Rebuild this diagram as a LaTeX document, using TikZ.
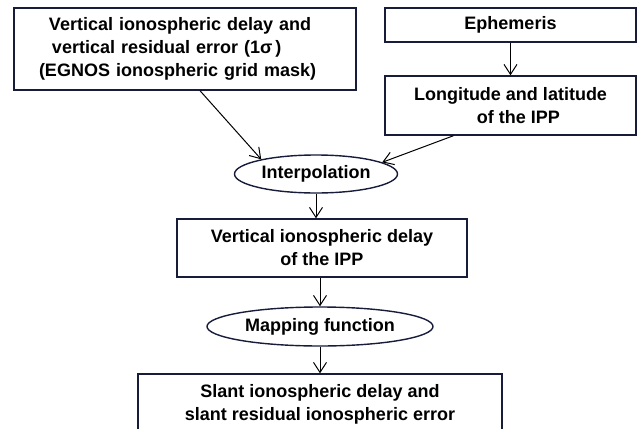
\documentclass[tikz,border=0pt]{standalone}
\usepackage{fontspec}
\setmainfont{Liberation Sans}
\usepackage{tikz}
\usetikzlibrary{shapes.geometric,arrows.meta}
\definecolor{boxline}{RGB}{22,28,58}
\tikzstyle{node:box}=[rectangle,draw=boxline,line width=1.4pt,inner sep=0pt,align=center,font=\fontsize{18}{23}\selectfont\bfseries]
\tikzstyle{node:process}=[ellipse,draw=boxline,line width=1.4pt,inner sep=0pt,font=\fontsize{18}{23}\selectfont\bfseries]
\tikzstyle{draw:flow}=[-{Straight Barb[length=10pt,width=13pt]}, line width=1pt]

\begin{document}
\begin{tikzpicture}[x=1pt,y=-1pt]
        \useasboundingbox (0,0) rectangle (641,429);
        \clip (0,0) rectangle (641,429);

        % Input boxes
        \node[node:box,minimum width=342pt,minimum height=82pt,text width=342pt,align=left] (grid) at (185,49)
                {\hspace*{35pt}Vertical ionospheric delay and\\\hspace*{38pt}vertical residual error (1σ\,)\\\hspace*{25pt}(EGNOS ionospheric grid mask)};
        \node[node:box,minimum width=251pt,minimum height=34pt] (eph) at (510.5,25) {Ephemeris};
        \node[node:box,minimum width=251pt,minimum height=59pt] (ipp) at (510.5,105.5) {Longitude and latitude\\\hspace*{16pt}of the IPP};

        % Processing steps
        \node[node:process,minimum width=163pt,minimum height=38pt] (interp) at (316,174) {Interpolation};
        \node[node:box,minimum width=290pt,minimum height=58pt] (vdelay) at (322,248) {Vertical ionospheric delay\\of the IPP};
        \node[node:process,minimum width=226pt,minimum height=39pt] (mapping) at (320,326.5) {Mapping function};
        \node[node:box,minimum width=364pt,minimum height=61pt] (slant) at (320,404.5) {Slant ionospheric delay and\\slant residual ionospheric error};

        % Connections
        \draw[draw:flow] (eph) -- (ipp);
        \draw[draw:flow] ([xshift=15pt]grid.south) -- (interp.165);
        \draw[draw:flow] ([xshift=-57pt]ipp.south) -- (interp.10);
        \draw[draw:flow] (interp.south) -- (interp.south |- vdelay.north);
        \draw[draw:flow] (mapping.north |- vdelay.south) -- (mapping.north);
        \draw[draw:flow] (mapping.south) -- (mapping.south |- slant.north);
\end{tikzpicture}
\end{document}
